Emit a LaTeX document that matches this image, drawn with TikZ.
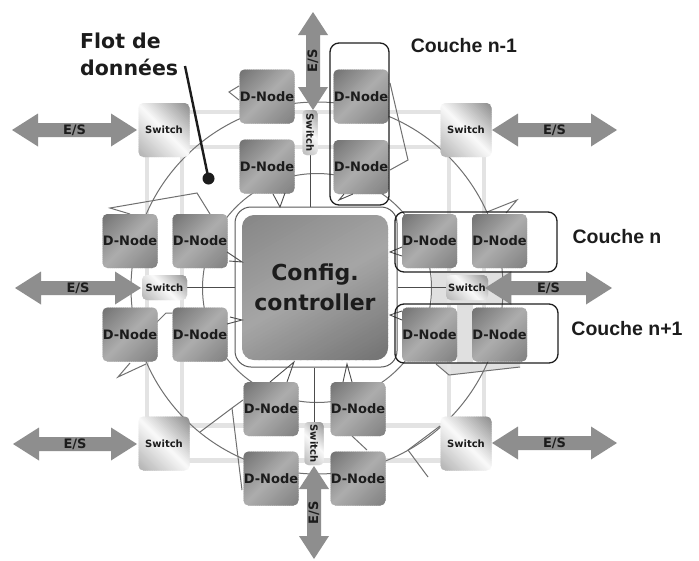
\documentclass[tikz,border=0pt]{standalone}
\usepackage{fontspec}
\setmainfont{DejaVu Sans}
\newfontfamily\couchefont{Liberation Sans}
\pgfdeclarelayer{backdrop}
\pgfdeclarelayer{flow}
\pgfsetlayers{backdrop,flow,main}

\definecolor{dnA}{HTML}{707070}
\definecolor{dnB}{HTML}{ADADAD}
\definecolor{dnC}{HTML}{808080}
\definecolor{swA}{HTML}{8A8A8A}
\definecolor{swB}{HTML}{FAFAFA}
\definecolor{swC}{HTML}{B0B0B0}
\definecolor{ctA}{HTML}{858585}
\definecolor{ctB}{HTML}{A6A6A6}
\definecolor{ctC}{HTML}{707070}
\definecolor{esgray}{HTML}{8E8E8E}
\definecolor{gridgray}{HTML}{E3E3E3}
\definecolor{bandgray}{HTML}{E0E0E0}
\definecolor{ringgray}{HTML}{707070}
\definecolor{inkdark}{HTML}{1C1C1C}

% rounded patch filled with a three-stop gradient made of thin stripes
% #1 cx, #2 cy, #3 width, #4 height, #5 corner radius,
% #6 first colour, #7 middle colour, #8 last colour, #9 angle
\newcommand\gradpatch[9]{%
  \begin{scope}
    \clip[rounded corners=#5] (#1-#3/2,#2-#4/2) rectangle (#1+#3/2,#2+#4/2);
    \pgfmathsetmacro\gspan{5*sqrt((#3/10)*(#3/10)+(#4/10)*(#4/10))+1}%
    \begin{scope}[shift={(#1,#2)}, rotate=#9]
      \foreach \gi in {0,...,59}{%
        \pgfmathsetmacro\gval{\gi/59}%
        \ifdim\gval pt<0.5pt
          \pgfmathsetmacro\gpct{100*(1-2*\gval)}%
          \colorlet{gstripe}{#6!\gpct!#7}%
        \else
          \pgfmathsetmacro\gpct{100*(2-2*\gval)}%
          \colorlet{gstripe}{#7!\gpct!#8}%
        \fi
        \pgfmathsetmacro\gya{-\gspan+\gi*\gspan/30}%
        \pgfmathsetmacro\gyb{\gya+\gspan/30+0.6}%
        \fill[gstripe] (-\gspan,\gya) rectangle (\gspan,\gyb);
      }
    \end{scope}
  \end{scope}}

% data node: name, x, y
\newcommand\DNode[3]{%
  \gradpatch{#2}{#3}{55}{54}{5}{dnA}{dnB}{dnC}{45}%
  \node[dnode] (#1) at (#2,#3) {D-Node};}
% switch: name, x, y, width, height
\newcommand\SwitchBox[5]{%
  \gradpatch{#2}{#3}{#4}{#5}{5}{swA}{swB}{swC}{-45}%
  \node[swbox, minimum width=#4pt, minimum height=#5pt] (#1) at (#2,#3) {Switch};}
% upright switch: name, x, y, width, height (text reads downwards)
\newcommand\SwitchBoxV[5]{%
  \gradpatch{#2}{#3}{#4}{#5}{4}{swA}{swB}{swC}{-45}%
  \node[swbox, rotate=-90, minimum width=#5pt, minimum height=#4pt] (#1) at (#2,#3) {Switch};}

% horizontal double arrow: name, centre x, centre y, half length
\newcommand\EShoriz[4]{%
  \begin{scope}[shift={(#2,#3)}]
    \fill[esgray] (-#4,0) -- (-#4+26,-16.5) -- (-#4+26,-7) -- (#4-26,-7)
      -- (#4-26,-16.5) -- (#4,0) -- (#4-26,16.5) -- (#4-26,7)
      -- (-#4+26,7) -- (-#4+26,16.5) -- cycle;
    \node[estext] (#1) at (0,0) {E/S};
  \end{scope}}
% vertical double arrow: name, centre x, centre y, half length
\newcommand\ESvert[4]{%
  \begin{scope}[shift={(#2,#3)}]
    \fill[esgray] (0,-#4) -- (15,-#4+23) -- (7,-#4+23) -- (7,#4-23)
      -- (15,#4-23) -- (0,#4) -- (-15,#4-23) -- (-7,#4-23)
      -- (-7,-#4+23) -- (-15,-#4+23) -- cycle;
    \node[estext,rotate=90] (#1) at (0,0) {E/S};
  \end{scope}}

\begin{document}
\begin{tikzpicture}[x=1pt,y=-1pt,
  dnode/.style={minimum width=55pt, minimum height=54pt, inner sep=0pt,
    text=inkdark, font=\bfseries\fontsize{13}{15}\selectfont},
  swbox/.style={inner sep=0pt, text=inkdark,
    font=\bfseries\fontsize{10}{12}\selectfont},
  estext/.style={inner sep=0pt, text=inkdark,
    font=\bfseries\fontsize{13}{15}\selectfont},
  layerbox/.style={draw=black!88, line width=1.3pt, rounded corners=9pt,
    inner sep=0pt},
  couchelabel/.style={inner sep=0pt, text=inkdark,
    font=\couchefont\bfseries\fontsize{19.5}{22}\selectfont},
  gridline/.style={draw=gridgray, line width=4.5pt},
  ringline/.style={draw=ringgray, line width=1pt},
  flowmark/.style={draw=ringgray, line width=1pt, line join=miter},
  wire/.style={draw=black!70, line width=0.9pt},
  cfgmark/.style={draw=black!70, line width=0.9pt, line join=miter}]

\useasboundingbox (0,0) rectangle (699,560);

% ---------- configuration controller ----------
\node[draw=black!65, line width=1pt, fill=white, rounded corners=16pt,
  minimum width=162pt, minimum height=160pt, inner sep=0pt]
  (ctlframe) at (316,287) {};
\gradpatch{315}{287.5}{146}{145}{12}{ctA}{ctB}{ctC}{30}
\node[minimum width=146pt, minimum height=145pt, inner sep=0pt,
  align=center, text=inkdark, font=\bfseries\fontsize{22}{30}\selectfont]
  (ctl) at (315,287.5) {Config.\\controller};

% ---------- data nodes ----------
\DNode{dT1}{267}{96.5}
\DNode{dT2}{267}{166.5}
\DNode{dT3}{361}{96.5}
\DNode{dT4}{361}{167}
\DNode{dL1}{130}{241}
\DNode{dL2}{200}{241}
\DNode{dL3}{130}{334.5}
\DNode{dL4}{200}{334.5}
\DNode{dR1}{429.5}{241}
\DNode{dR2}{499.5}{241}
\DNode{dR3}{429.5}{334.5}
\DNode{dR4}{499.5}{334.5}
\DNode{dB1}{271}{409}
\DNode{dB2}{271}{478.5}
\DNode{dB3}{358}{409}
\DNode{dB4}{358}{478.5}

% ---------- switches ----------
\SwitchBox{swTL}{164}{130}{51}{54}
\SwitchBox{swTR}{466}{130}{51}{54}
\SwitchBox{swBL}{164}{443.5}{51}{54}
\SwitchBox{swBR}{466}{443.5}{51}{54}
\SwitchBox{swML}{164.5}{287.5}{45}{25}
\SwitchBox{swMR}{467}{287.5}{42}{25}
\SwitchBoxV{swT}{310}{132.5}{15}{45}
\SwitchBoxV{swB}{314}{443.5}{19}{43}

% ---------- light interconnect grid ----------
\begin{pgfonlayer}{backdrop}
  \fill[white] (0,0) rectangle (699,560);
  \fill[bandgray] (432,271) rectangle (512,305);
  \fill[bandgray] (457,300) rectangle (473,364);
  \fill[bandgray] (436,363) -- (520,363) -- (520,367) -- (449,375) -- cycle;
  \foreach \d in {-17,18} {
    \draw[gridline] ([xshift=\d pt]swTL.center) -- ([xshift=\d pt]swBL.center);
    \draw[gridline] ([xshift=\d pt]swTR.center) -- ([xshift=\d pt]swBR.center);
    \draw[gridline] ([yshift=\d pt]swTL.center) -- ([yshift=\d pt]swTR.center);
    \draw[gridline] ([yshift=\d pt]swBL.center) -- ([yshift=\d pt]swBR.center);
  }
\end{pgfonlayer}

% ---------- data flow rings and links ----------
\begin{pgfonlayer}{flow}
  \coordinate (hub) at (317,288);
  \draw[ringline] (hub) circle[radius=186pt];
  \draw[ringline] (hub) circle[radius=114.5pt];
  % switch to controller wires
  \draw[wire] (swML.east) -- (swML.east -| ctlframe.west);
  \draw[wire] (swMR.west) -- (swMR.west -| ctlframe.east);
  \draw[wire] (swT) -- (swT |- ctlframe.north);
  \draw[wire] (swB) -- (swB |- ctlframe.south);
  % flow arrow heads between neighbouring nodes
  \draw[flowmark] (130,214) -- (110,208) -- (197,193) -- (210,214);
  \draw[flowmark] (239,86) -- (229,92) -- (239,100);
  \draw[flowmark] (390,83) -- (408,160) -- (390,170);
  \draw[flowmark] (487,212) -- (517,200) -- (506,213);
  \draw[flowmark] (440,426) -- (408,450) -- (428,477);
  \draw[flowmark] (200,432) -- (232,408) -- (243,400);
  \draw[flowmark] (232,408) -- (242,490);
  \draw[flowmark] (130,363) -- (118,377) -- (146,364);
  \draw[flowmark] (436,364) -- (449,375) -- (520,367);
  \draw[flowmark] (157,322) -- (166,313) -- (172,313);
  \draw[flowmark] (352,436) -- (367,450);
\end{pgfonlayer}

% ---------- configuration links ----------
\draw[cfgmark] (273,194) -- (280,207) -- (285,193);
\draw[cfgmark] (344,194) -- (339,200) -- (353,194);
\draw[cfgmark] (227,252) -- (242,262) -- (229,261);
\draw[cfgmark] (227,324) -- (242,320) -- (230,317);
\draw[cfgmark] (402,247) -- (390,252) -- (402,256);
\draw[cfgmark] (402,311) -- (390,315) -- (402,320);
\draw[cfgmark] (270,382) -- (294,362) -- (287,382);
\draw[cfgmark] (343,382) -- (347,364) -- (352,382);

% ---------- input / output ports ----------
\EShoriz{esTL}{74.5}{130}{62.5}
\EShoriz{esTR}{554.5}{130}{62.5}
\EShoriz{esML}{78}{288}{63}
\EShoriz{esMR}{548.5}{288}{63.5}
\EShoriz{esBL}{75}{444}{62}
\EShoriz{esBR}{554.5}{443}{62.5}
\ESvert{esT}{313}{61}{49}
\ESvert{esB}{314}{512.5}{46.5}

% ---------- layers ----------
\node[layerbox, minimum width=59pt, minimum height=162pt] (cNm) at (359.5,124) {};
\node[layerbox, minimum width=162pt, minimum height=60pt] (cN) at (476,242) {};
\node[layerbox, minimum width=163pt, minimum height=59pt] (cNp) at (476.5,333.5) {};
\node[couchelabel] (lNm) at (464,46) {Couche n-1};
\node[couchelabel] (lN) at (617,237) {Couche n};
\node[couchelabel] (lNp) at (627,329) {Couche n+1};

% ---------- data flow label ----------
\node[anchor=base west, inner sep=0pt, text=inkdark,
  font=\bfseries\fontsize{20.5}{24}\selectfont] (flot1) at (80,48) {Flot de};
\node[anchor=base west, inner sep=0pt, text=inkdark,
  font=\bfseries\fontsize{20.5}{24}\selectfont] (flot2) at (80,75) {données};
\coordinate (flotstart) at (185,66);
\coordinate (flotdot) at (208.5,178.5);
\draw[line width=2.4pt, inkdark] (flotstart) -- (flotdot);
\fill[inkdark] (flotdot) circle[radius=6pt];
\end{tikzpicture}
\end{document}
